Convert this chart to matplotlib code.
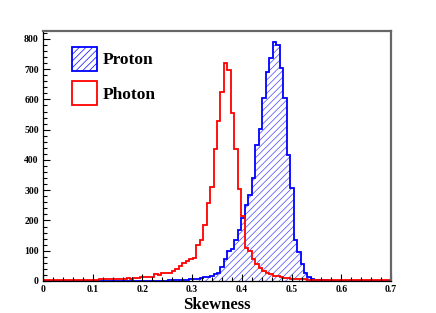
import numpy as np
import matplotlib
matplotlib.use("Agg")
import matplotlib.pyplot as plt
from matplotlib.patches import Patch
from matplotlib.ticker import MultipleLocator

# ---- data (100 bins from 0 to 0.7) ----
x_min, x_max, n_bins = 0.0, 0.7, 100
photon_counts = [
    2, 3, 2, 3, 3, 2, 3, 3, 4, 3,
    3, 4, 3, 4, 4, 4, 6, 6, 5, 6,
    7, 8, 8, 7, 9, 8, 9, 10, 12, 12,
    13, 14, 22, 21, 26, 27, 28, 32, 39, 50,
    58, 66, 72, 77, 119, 135, 185, 257, 312, 436,
    530, 624, 720, 697, 555, 436, 303, 215, 108, 98,
    72, 56, 42, 34, 26, 22, 18, 15, 12, 11,
    9, 8, 7, 6, 5, 5, 4, 4, 3, 4,
    3, 3, 4, 3, 2, 3, 3, 2, 3, 2,
    3, 2, 2, 3, 2, 2, 3, 2, 2, 3,
]
proton_counts = [
    0, 0, 0, 0, 0, 0, 0, 0, 0, 0,
    0, 0, 0, 0, 0, 0, 0, 0, 0, 0,
    1, 1, 1, 1, 1, 1, 1, 1, 1, 1,
    1, 1, 1, 1, 1, 1, 2, 2, 2, 2,
    2, 4, 5, 6, 8, 10, 12, 14, 18, 22,
    28, 45, 72, 100, 105, 135, 170, 207, 250, 285,
    340, 450, 502, 604, 690, 736, 789, 779, 705, 605,
    415, 307, 135, 97, 55, 28, 12, 6, 4, 3,
    2, 2, 1, 1, 0, 0, 0, 0, 0, 0,
    0, 0, 0, 0, 0, 0, 0, 0, 0, 0,
]
legend_labels = ["Proton", "Photon"]
x_label = "Skewness"

edges = np.linspace(x_min, x_max, n_bins + 1)

plt.rcParams['font.family'] = ['Liberation Serif', 'DejaVu Serif']
plt.rcParams['font.weight'] = 'bold'
plt.rcParams['hatch.linewidth'] = 0.5

W, H = 436, 313
fig = plt.figure(figsize=(W / 100, H / 100), dpi=100)
ax = fig.add_axes([43 / W, 1 - 281 / H, (391 - 43) / W, (281 - 31) / H])

# proton: hatched fill + outline
ax.stairs(proton_counts, edges, fill=True, facecolor='none',
          edgecolor='#4444ff', hatch='/////', linewidth=0)
ax.stairs(proton_counts, edges, color='#0000ff', linewidth=1.3, baseline=0)
# photon: outline only
ax.stairs(photon_counts, edges, color='#ff0000', linewidth=1.3, baseline=0)

ax.set_xlim(x_min, x_max)
ax.set_ylim(0, 826)

ax.xaxis.set_major_locator(MultipleLocator(0.1))
ax.xaxis.set_minor_locator(MultipleLocator(0.02))
ax.yaxis.set_major_locator(MultipleLocator(100))
ax.yaxis.set_minor_locator(MultipleLocator(20))
ax.xaxis.set_major_formatter(plt.FuncFormatter(lambda v, p: "0" if abs(v) < 1e-9 else f"{v:.1f}"))
ax.tick_params(which='both', direction='in', top=False, right=False,
               labelsize=7, width=0.8, colors='black')
ax.tick_params(which='major', length=5)
ax.tick_params(which='minor', length=2.6)
ax.tick_params(axis='x', pad=3)
ax.tick_params(axis='y', pad=3)
for lab in ax.get_xticklabels() + ax.get_yticklabels():
    lab.set_fontweight('bold')

for s in ['left', 'bottom']:
    ax.spines[s].set_color('black')
    ax.spines[s].set_linewidth(0.9)
for s in ['top', 'right']:
    ax.spines[s].set_color('#666666')
    ax.spines[s].set_linewidth(1.6)

ax.set_xlabel(x_label, fontsize=12, fontweight='bold', labelpad=2)

handles = [
    Patch(facecolor='white', edgecolor='#0000ff', hatch='/////', linewidth=1.3),
    Patch(facecolor='white', edgecolor='#ff0000', linewidth=1.3),
]
leg = ax.legend(handles, legend_labels, loc='upper left',
                bbox_to_anchor=(72 / W, 1 - 46.5 / H), bbox_transform=fig.transFigure,
                frameon=False, borderpad=0, borderaxespad=0,
                handlelength=1.44, handleheight=1.75, handletextpad=0.3,
                labelspacing=0.62, prop={'family': 'Liberation Serif', 'weight': 'bold', 'size': 12.5})

fig.savefig("out.png", dpi=100)
